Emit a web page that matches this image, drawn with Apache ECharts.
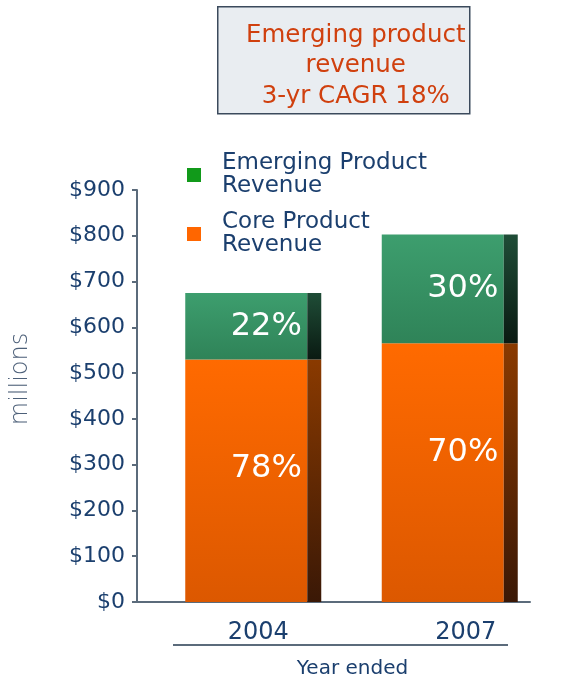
<!DOCTYPE html>
<html>
<head>
<meta charset="utf-8">
<script src="https://cdn.jsdelivr.net/npm/echarts@6/dist/echarts.min.js"></script>
<style>
  html, body { margin: 0; padding: 0; background: #fff; }
  #chart { width: 561px; height: 679px; }
</style>
</head>
<body>
<div id="chart"></div>
<script>
/* ================================
   DATA
================================ */
const years = ["2004", "2007"];
const coreRevenue = [530, 565];       // $ millions
const emergingRevenue = [145, 238];   // $ millions
const corePct = ["78%", "70%"];
const emergingPct = ["22%", "30%"];
const calloutLines = ["Emerging product", "revenue", "3-yr CAGR 18%"];

const FONT = "DejaVu Sans";
const NAVY = "#1b3f6e";
const AXIS = "#5b6b7b";

/* ================================
   BAR DRAWING (front face + dark side)
================================ */
function vgrad(top, bottom) {
  return {
    type: "linear", x: 0, y: 0, x2: 0, y2: 1,
    colorStops: [{ offset: 0, color: top }, { offset: 1, color: bottom }]
  };
}

// labelDrop: null -> label at segment middle, number -> px below segment top
function makeRender(baseArr, labels, front, side, labelDrop) {
  return function (params, api) {
    const i = api.value(0);
    const v = api.value(1);
    const b = baseArr ? baseArr[i] : 0;
    const p0 = api.coord([i, b]);
    const p1 = api.coord([i, b + v]);
    const cx = p0[0];
    const h = p0[1] - p1[1];
    const ly = labelDrop == null ? (p0[1] + p1[1]) / 2 : p1[1] + labelDrop;
    return {
      type: "group",
      children: [
        { type: "rect", shape: { x: cx - 50, y: p1[1], width: 122, height: h },
          style: { fill: front } },
        { type: "rect", shape: { x: cx + 72, y: p1[1], width: 14, height: h },
          style: { fill: side } },
        { type: "text", x: cx + 31, y: ly,
          style: { text: labels[i], fill: "#fff", font: "32px " + FONT,
                   align: "center", verticalAlign: "middle" } }
      ]
    };
  };
}

const chart = echarts.init(document.getElementById("chart"));

chart.setOption({
  animation: false,
  grid: { left: 137, right: 31, top: 190, bottom: 77, outerBoundsMode: "none" },
  legend: {
    orient: "vertical",
    left: 182,
    top: 147,
    itemWidth: 14,
    itemHeight: 14,
    itemGap: 13,
    icon: "rect",
    data: ["Emerging Product Revenue", "Core Product Revenue"],
    formatter: n => n.replace(" Revenue", "\nRevenue"),
    textStyle: { color: NAVY, fontSize: 23, fontFamily: FONT, lineHeight: 23,
                 padding: [0, 0, 0, 16] }
  },
  xAxis: {
    type: "category",
    data: years,
    axisLine: { lineStyle: { color: AXIS, width: 2 } },
    axisTick: { length: 5, lineStyle: { color: AXIS, width: 2 } },
    axisLabel: {
      margin: 19,
      formatter: (v, i) => "{a" + i + "|" + v + "}",
      rich: {
        a0: { color: NAVY, fontSize: 24, fontFamily: FONT, padding: [0, 0, 0, 46] },
        a1: { color: NAVY, fontSize: 24, fontFamily: FONT, padding: [0, 0, 0, 68] }
      }
    },
    name: "Year ended",
    nameLocation: "middle",
    nameGap: 57,
    nameTextStyle: { color: NAVY, fontSize: 20, fontFamily: FONT, padding: [0, 0, 0, 38] }
  },
  yAxis: {
    type: "value",
    min: 0,
    max: 900,
    interval: 100,
    splitLine: { show: false },
    axisLine: { show: true, lineStyle: { color: AXIS, width: 2 } },
    axisTick: { show: true, length: 5, lineStyle: { color: AXIS, width: 2 } },
    axisLabel: { color: NAVY, fontSize: 22, fontFamily: FONT, margin: 12,
                 formatter: v => "$" + v },
    name: "millions",
    nameLocation: "middle",
    nameRotate: 90,
    nameGap: 104,
    nameTextStyle: { color: "#4d6079", fontSize: 24, fontWeight: 200, fontFamily: FONT,
                     padding: [0, 0, 0, 34] }
  },
  graphic: [
    {
      type: "group",
      left: 217,
      top: 6,
      children: [
        { type: "rect", shape: { x: 0, y: 0, width: 252, height: 107 },
          style: { fill: "#e9edf1", stroke: "#3b4a5c", lineWidth: 1.5 } },
        { type: "text", x: 138, y: 59,
          style: { text: calloutLines.join("\n"), fill: "#d0400e",
                   font: "24.5px " + FONT, lineHeight: 30.5,
                   align: "center", verticalAlign: "middle" } }
      ]
    },
    { type: "line", shape: { x1: 173, y1: 645, x2: 508, y2: 645 },
      style: { stroke: AXIS, lineWidth: 2 } }
  ],
  series: [
    {
      name: "Core Product Revenue",
      type: "custom",
      itemStyle: { color: "#ff6600" },
      data: coreRevenue.map((v, i) => [i, v]),
      renderItem: makeRender(null, corePct,
        vgrad("#ff6a00", "#dc5800"), vgrad("#8a3a00", "#3a1806"), 109)
    },
    {
      name: "Emerging Product Revenue",
      type: "custom",
      itemStyle: { color: "#119a1a" },
      data: emergingRevenue.map((v, i) => [i, v]),
      renderItem: makeRender(coreRevenue, emergingPct,
        vgrad("#3d9e6e", "#2f8358"), vgrad("#1f4d37", "#0a1a12"), null)
    }
  ]
});
</script>
</body>
</html>
